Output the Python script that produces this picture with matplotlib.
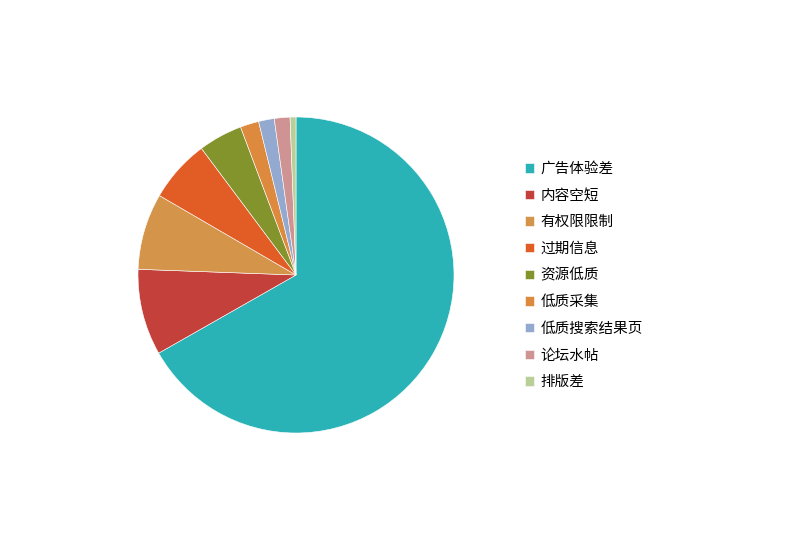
import matplotlib
matplotlib.use('Agg')
import matplotlib.pyplot as plt

plt.rcParams['font.family'] = ['Noto Sans CJK SC', 'DejaVu Sans']

# data (percent of total)
labels = ['广告体验差', '内容空短', '有权限限制', '过期信息', '资源低质',
          '低质采集', '低质搜索结果页', '论坛水帖', '排版差']
values = [66.7, 8.8, 7.8, 6.4, 4.5, 1.9, 1.6, 1.6, 0.6]
colors = ['#2ab3b7', '#c4403a', '#d4944a', '#e25c26', '#84942d',
          '#de8a3e', '#93a9d0', '#d09394', '#b9cf98']

W, H = 800, 540
cx, cy, r = 296, 275, 158

fig = plt.figure(figsize=(8, 5.4), dpi=100)
ax = fig.add_axes([(cx - r) / W, (H - cy - r) / H, 2 * r / W, 2 * r / H])
wedges, _ = ax.pie(values, colors=colors, startangle=90, counterclock=False,
                   radius=1, wedgeprops=dict(edgecolor='white', linewidth=0.4))
ax.set_xlim(-1, 1)
ax.set_ylim(-1, 1)
ax.set_aspect('equal')
ax.axis('off')

fig.legend(wedges, labels, loc='upper left', bbox_to_anchor=(525 / W, 1 - 162 / H),
           frameon=False, fontsize=10.5, handlelength=0.62, handleheight=0.62,
           handletextpad=0.45, labelspacing=0.865, borderaxespad=0, borderpad=0)

fig.savefig('out.png', dpi=100)
